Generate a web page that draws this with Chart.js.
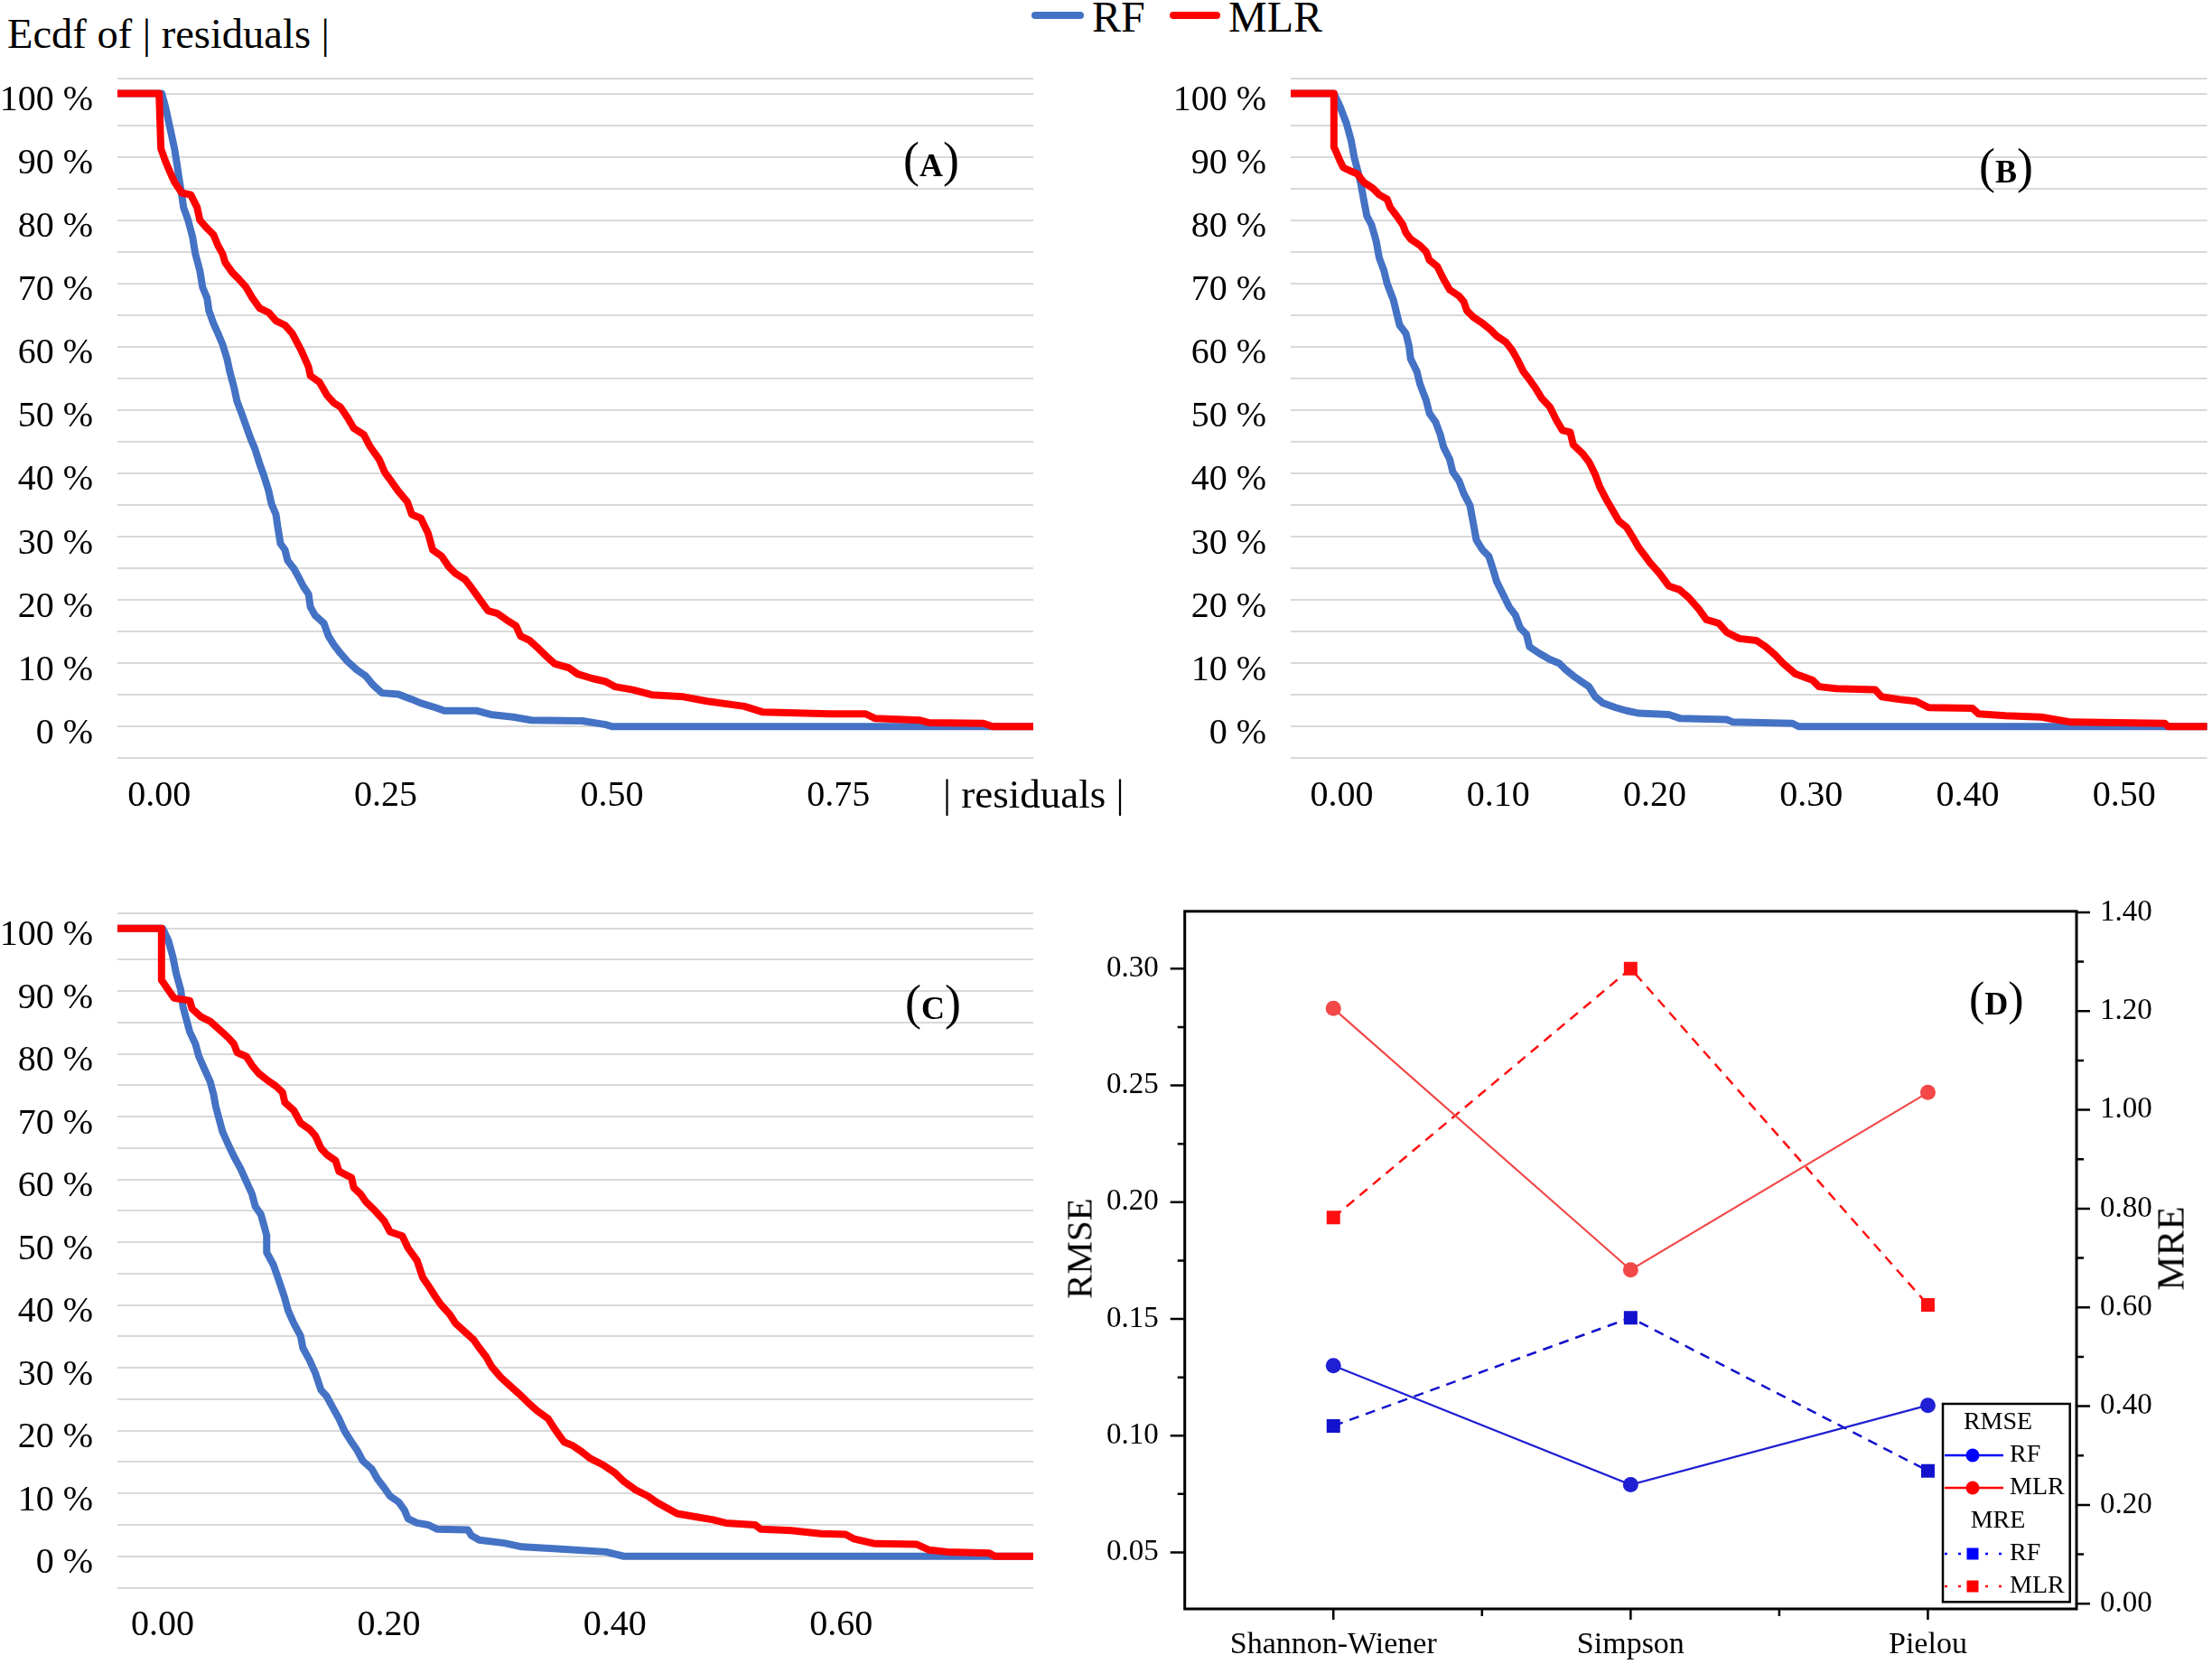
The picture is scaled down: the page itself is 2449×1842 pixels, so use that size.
<!DOCTYPE html>
<html>
<head>
<meta charset="utf-8">
<title>Ecdf of residuals</title>
<script src="https://cdn.jsdelivr.net/npm/chart.js@4.4.1/dist/chart.umd.min.js"></script>
<style>
body{margin:0;background:#fff;width:2449px;height:1842px;position:relative;overflow:hidden;font-family:"Liberation Serif","Times New Roman",serif;color:#000;}
.box{position:absolute}
.txt{position:absolute;white-space:nowrap;line-height:1}
.lbl{position:absolute;white-space:nowrap;line-height:1;font-size:54px}
.lbl b{font-size:36px}
.key{position:absolute;height:8px;border-radius:4px}
.rot{position:absolute;white-space:nowrap;line-height:1;transform:translate(-50%,-50%) rotate(-90deg)}
</style>
</head>
<body>

<div class="txt" style="left:8px;top:15px;font-size:46.5px">Ecdf of | residuals |</div>
<div class="key" style="left:1142px;top:13px;width:58px;background:#4472C4"></div>
<div class="txt" style="left:1209px;top:-5px;font-size:48px">RF</div>
<div class="key" style="left:1295px;top:13px;width:56px;background:#FF0000"></div>
<div class="txt" style="left:1360px;top:-5px;font-size:48px">MLR</div>

<div class="box" style="left:0;top:0;width:1160px;height:920px"><canvas id="chartA"></canvas></div>
<div class="box" style="left:1300px;top:0;width:1149px;height:920px"><canvas id="chartB"></canvas></div>
<div class="box" style="left:0;top:960px;width:1160px;height:882px"><canvas id="chartC"></canvas></div>
<div class="box" style="left:1150px;top:960px;width:1299px;height:882px"><canvas id="chartD"></canvas></div>

<div class="txt" style="left:1044px;top:857px;font-size:45px">| residuals |</div>
<div class="lbl" style="left:1000px;top:150px">(<b>A</b>)</div>
<div class="lbl" style="left:2191px;top:157px">(<b>B</b>)</div>
<div class="lbl" style="left:1002px;top:1083px">(<b>C</b>)</div>
<div class="lbl" style="left:2180px;top:1080px;font-size:52px">(<b>D</b>)</div>
<div class="rot" style="left:1195px;top:1382px;font-size:41px">RMSE</div>
<div class="rot" style="left:2403px;top:1382px;font-size:43px">MRE</div>

<script>
// ---- panel A: [|residual|, percent]
var aRF = [[-0.047,100],[0.003,100],[0.007,97.9],[0.012,94.6],[0.017,91.3],[0.020,88.6],[0.022,86.6],[0.025,84.0],[0.027,82.0],[0.032,80.0],[0.037,77.3],[0.040,74.7],[0.045,72.0],[0.048,69.4],[0.053,67.7],[0.055,65.7],[0.060,63.7],[0.065,62.1],[0.070,60.4],[0.075,58.1],[0.078,56.1],[0.083,53.4],[0.086,51.4],[0.091,49.5],[0.096,47.5],[0.101,45.5],[0.106,43.8],[0.111,41.5],[0.116,39.5],[0.121,37.2],[0.124,35.2],[0.129,33.5],[0.131,31.5],[0.134,28.9],[0.139,27.9],[0.142,26.2],[0.149,24.9],[0.154,23.6],[0.159,22.2],[0.165,20.9],[0.167,18.9],[0.172,17.6],[0.182,16.3],[0.187,14.3],[0.193,12.9],[0.200,11.6],[0.208,10.3],[0.218,9.0],[0.228,8.0],[0.236,6.6],[0.246,5.3],[0.264,5.1],[0.279,4.3],[0.289,3.7],[0.305,3.0],[0.315,2.5],[0.350,2.5],[0.366,1.9],[0.391,1.5],[0.411,1.0],[0.467,0.9],[0.493,0.3],[0.500,0.0],[0.965,0.0]];
var aMLR = [[-0.047,100],[0.000,100],[0.002,91.3],[0.007,89.3],[0.012,87.6],[0.017,86.0],[0.025,84.3],[0.035,84.0],[0.042,82.0],[0.045,80.0],[0.053,78.7],[0.060,77.7],[0.065,76.0],[0.070,74.7],[0.073,73.3],[0.081,71.7],[0.088,70.7],[0.096,69.4],[0.103,67.7],[0.111,66.1],[0.121,65.4],[0.129,64.1],[0.139,63.4],[0.147,62.1],[0.157,59.4],[0.165,56.8],[0.167,55.4],[0.177,54.4],[0.185,52.4],[0.193,51.1],[0.200,50.5],[0.208,48.8],[0.215,47.1],[0.226,46.1],[0.233,44.2],[0.243,42.2],[0.249,40.2],[0.256,38.8],[0.264,37.2],[0.274,35.5],[0.279,33.5],[0.289,32.9],[0.297,30.5],[0.302,27.9],[0.312,26.9],[0.320,25.2],[0.327,24.2],[0.338,23.2],[0.345,21.9],[0.355,19.9],[0.363,18.3],[0.373,17.9],[0.383,16.9],[0.394,15.9],[0.399,14.3],[0.409,13.6],[0.419,12.3],[0.429,10.9],[0.437,9.9],[0.452,9.3],[0.462,8.3],[0.478,7.6],[0.493,7.1],[0.503,6.3],[0.523,5.8],[0.544,5.0],[0.579,4.7],[0.605,4.0],[0.646,3.2],[0.666,2.3],[0.741,2.0],[0.780,2.0],[0.790,1.3],[0.840,1.0],[0.850,0.6],[0.910,0.5],[0.920,0.0],[0.965,0.0]];

// ---- panel B
var bRF = [[-0.032,100],[-0.005,100],[-0.001,97.9],[0.003,95.3],[0.006,92.6],[0.008,89.9],[0.010,88.0],[0.012,86.0],[0.014,83.3],[0.016,80.7],[0.019,79.3],[0.022,76.7],[0.024,74.0],[0.027,72.0],[0.029,70.0],[0.033,67.4],[0.035,65.4],[0.037,63.4],[0.041,62.1],[0.043,60.1],[0.044,58.1],[0.048,56.1],[0.050,54.1],[0.054,51.5],[0.056,49.5],[0.060,48.1],[0.063,46.1],[0.065,44.2],[0.069,42.2],[0.071,40.2],[0.075,38.8],[0.078,36.8],[0.082,34.9],[0.084,32.2],[0.086,29.5],[0.090,27.9],[0.094,26.9],[0.097,24.6],[0.099,22.9],[0.103,20.9],[0.107,18.9],[0.111,17.6],[0.114,15.6],[0.118,14.6],[0.120,12.6],[0.126,11.6],[0.133,10.6],[0.139,10.0],[0.143,9.0],[0.148,8.0],[0.152,7.3],[0.158,6.3],[0.162,4.7],[0.167,3.7],[0.175,3.0],[0.182,2.5],[0.190,2.1],[0.209,1.9],[0.216,1.3],[0.246,1.1],[0.250,0.7],[0.288,0.5],[0.292,0.0],[0.553,0.0]];
var bMLR = [[-0.032,100],[-0.005,100],[-0.005,91.6],[-0.001,89.3],[0.001,88.3],[0.007,87.6],[0.010,87.3],[0.014,86.0],[0.020,85.0],[0.024,84.0],[0.029,83.3],[0.031,82.0],[0.035,80.7],[0.039,79.3],[0.041,78.0],[0.044,77.0],[0.050,76.0],[0.054,75.0],[0.056,73.7],[0.061,72.7],[0.065,70.7],[0.069,69.0],[0.075,68.0],[0.078,67.1],[0.080,65.7],[0.084,64.7],[0.090,63.7],[0.095,62.7],[0.099,61.7],[0.105,60.7],[0.109,59.4],[0.112,58.1],[0.116,56.1],[0.120,54.8],[0.124,53.4],[0.128,51.8],[0.133,50.5],[0.137,48.5],[0.141,46.8],[0.146,46.5],[0.148,44.5],[0.154,43.1],[0.158,41.8],[0.162,39.8],[0.165,37.8],[0.169,35.9],[0.173,34.2],[0.177,32.5],[0.182,31.5],[0.186,29.9],[0.190,28.2],[0.194,26.9],[0.197,25.9],[0.203,24.2],[0.209,22.2],[0.216,21.6],[0.222,20.3],[0.228,18.6],[0.233,16.9],[0.241,16.3],[0.246,14.9],[0.254,13.9],[0.265,13.6],[0.271,12.6],[0.277,11.3],[0.282,10.0],[0.290,8.3],[0.301,7.3],[0.305,6.3],[0.316,6.0],[0.341,5.8],[0.345,4.7],[0.356,4.3],[0.367,4.0],[0.375,3.0],[0.403,2.9],[0.407,2.0],[0.424,1.7],[0.447,1.5],[0.466,0.7],[0.526,0.5],[0.528,0.0],[0.553,0.0]];

// ---- panel C
var cRF = [[-0.040,100],[0.000,100],[0.005,98.1],[0.009,95.5],[0.012,92.8],[0.016,90.2],[0.018,87.5],[0.021,85.5],[0.024,83.5],[0.029,81.6],[0.032,79.6],[0.037,77.6],[0.042,75.6],[0.045,73.6],[0.047,71.6],[0.050,69.6],[0.053,67.6],[0.058,65.6],[0.063,63.7],[0.069,61.7],[0.074,59.7],[0.079,57.7],[0.082,55.7],[0.087,54.4],[0.092,51.1],[0.092,48.4],[0.098,46.4],[0.103,43.8],[0.108,41.1],[0.111,39.1],[0.116,37.1],[0.122,35.1],[0.124,33.2],[0.130,31.2],[0.135,29.2],[0.140,26.5],[0.145,25.5],[0.151,23.5],[0.156,21.9],[0.161,19.9],[0.167,18.2],[0.172,16.9],[0.177,15.2],[0.185,13.9],[0.190,12.3],[0.196,10.9],[0.201,9.6],[0.209,8.6],[0.214,7.3],[0.217,6.0],[0.225,5.3],[0.235,5.0],[0.243,4.3],[0.270,4.2],[0.273,3.3],[0.280,2.6],[0.302,2.1],[0.318,1.5],[0.349,1.2],[0.392,0.7],[0.408,0.0],[0.770,0.0]];
var cMLR = [[-0.040,100],[-0.001,100],[-0.001,91.8],[0.005,90.2],[0.010,88.9],[0.024,88.5],[0.026,87.2],[0.034,85.9],[0.042,85.2],[0.050,83.9],[0.058,82.6],[0.063,81.6],[0.066,80.2],[0.074,79.6],[0.079,78.2],[0.085,76.9],[0.092,75.9],[0.100,74.9],[0.106,73.9],[0.108,72.3],[0.116,71.0],[0.122,69.0],[0.130,68.0],[0.135,67.0],[0.140,65.0],[0.145,64.0],[0.153,63.0],[0.156,61.3],[0.167,60.3],[0.169,58.7],[0.175,57.7],[0.180,56.4],[0.188,55.0],[0.196,53.4],[0.201,51.7],[0.212,51.0],[0.217,49.1],[0.225,47.1],[0.230,44.4],[0.235,43.1],[0.241,41.4],[0.246,40.1],[0.254,38.5],[0.259,37.1],[0.267,35.8],[0.275,34.5],[0.280,33.2],[0.286,31.8],[0.291,30.2],[0.299,28.5],[0.307,27.2],[0.315,25.9],[0.323,24.5],[0.331,23.2],[0.341,21.9],[0.347,20.2],[0.355,18.2],[0.363,17.6],[0.371,16.6],[0.378,15.6],[0.389,14.6],[0.400,13.3],[0.408,11.9],[0.418,10.6],[0.429,9.6],[0.437,8.6],[0.447,7.6],[0.455,6.8],[0.471,6.3],[0.487,5.8],[0.498,5.3],[0.524,5.0],[0.529,4.3],[0.556,4.1],[0.582,3.6],[0.604,3.5],[0.611,2.8],[0.630,2.0],[0.667,1.9],[0.678,1.0],[0.694,0.7],[0.731,0.5],[0.736,0.0],[0.770,0.0]];

// ---- tick labels
var ticksA = [0, 0.25, 0.5, 0.75];
var ticksB = [0, 0.1, 0.2, 0.3, 0.4, 0.5];
var ticksC = [0, 0.2, 0.4, 0.6];
var pctLabels = [0, 10, 20, 30, 40, 50, 60, 70, 80, 90, 100];

// ---- panel D
var indices = ['Shannon-Wiener', 'Simpson', 'Pielou'];
var rmseRF = [0.130, 0.079, 0.113];
var rmseMLR = [0.283, 0.171, 0.247];
var mreRF = [0.360, 0.579, 0.269];
var mreMLR = [0.782, 1.286, 0.605];
var rmseTicks = [0.05, 0.10, 0.15, 0.20, 0.25, 0.30];
var mreTicks = [0, 0.2, 0.4, 0.6, 0.8, 1.0, 1.2, 1.4];

Chart.defaults.font.family = '"Liberation Serif", "Times New Roman", serif';
Chart.defaults.color = '#000';

var COL_RF = '#4472C4', COL_MLR = '#FF0000';

function toPts(arr) {
  return arr.map(function(p) { return {x: p[0], y: p[1]}; });
}

function gridValues(top) {
  var g = [];
  for (var v = -5; v <= 100; v += 5) g.push(v);
  g.push(top);
  return g;
}

function ecdfLine(label, arr, color, order) {
  return {
    label: label, data: toPts(arr), order: order, showLine: true,
    borderColor: color, backgroundColor: color, borderWidth: 8,
    borderJoinStyle: 'round', borderCapStyle: 'round',
    pointRadius: 0, tension: 0, fill: false
  };
}

function ecdfChart(id, rf, mlr, xMin, xMax, xTicks, yTop, box) {
  var ctx = document.getElementById(id).getContext('2d');
  return new Chart(ctx, {
    type: 'scatter',
    data: {datasets: [ecdfLine('MLR', mlr, COL_MLR, 0), ecdfLine('RF', rf, COL_RF, 1)]},
    options: {
      responsive: true, maintainAspectRatio: false, animation: false,
      layout: {autoPadding: false, padding: {top: box.top, right: box.right, left: 0, bottom: 0}},
      plugins: {legend: {display: false}, tooltip: {enabled: false}},
      scales: {
        x: {
          type: 'linear', min: xMin, max: xMax,
          grid: {display: false, drawTicks: false}, border: {display: false},
          afterBuildTicks: function(s) { s.ticks = xTicks.map(function(v) { return {value: v}; }); },
          afterFit: function(s) { s.height = box.xh; },
          ticks: {autoSkip: false, maxRotation: 0, padding: 18, font: {size: 40},
            callback: function(v) { return v.toFixed(2); }}
        },
        y: {
          type: 'linear', min: -5, max: yTop,
          grid: {color: '#d9d9d9', lineWidth: 2, drawTicks: false}, border: {display: false},
          afterBuildTicks: function(s) { s.ticks = gridValues(yTop).map(function(v) { return {value: v}; }); },
          afterFit: function(s) { s.width = box.yw; },
          ticks: {autoSkip: false, padding: 27, labelOffset: 8, font: {size: 40},
            callback: function(v) { return pctLabels.indexOf(v) >= 0 ? v + ' %' : ''; }}
        }
      }
    }
  });
}

ecdfChart('chartA', aRF, aMLR, -0.046, 0.965, ticksA, 102.4, {top: 86.7, right: 16, yw: 130, xh: 80.7});
ecdfChart('chartB', bRF, bMLR, -0.0326, 0.553, ticksB, 102.4, {top: 86.7, right: 5.4, yw: 129, xh: 80.7});
ecdfChart('chartC', cRF, cMLR, -0.040, 0.770, ticksC, 102.4, {top: 43.4, right: 16, yw: 130, xh: 84.5});

// frame, tick marks and grouped legend of panel D
var legendRows = [
  {head: 'RMSE', dy: 21},
  {text: 'RF', color: '#0000ff', marker: 'circle', dy: 57},
  {text: 'MLR', color: '#ff0000', marker: 'circle', dy: 93},
  {head: 'MRE', dy: 130},
  {text: 'RF', color: '#0000ff', marker: 'rect', dy: 166},
  {text: 'MLR', color: '#ff0000', marker: 'rect', dy: 202}
];

var dFrame = {
  id: 'dFrame',
  afterDraw: function(chart) {
    var c = chart.ctx, a = chart.chartArea;
    var sx = chart.scales.x, sy = chart.scales.y, s2 = chart.scales.y2;
    var i, p;
    c.save();
    c.strokeStyle = '#000';
    c.lineWidth = 3;
    c.strokeRect(a.left, a.top, a.right - a.left, a.bottom - a.top);
    c.lineWidth = 2.5;
    c.beginPath();
    for (i = 0; i < rmseTicks.length; i++) {
      p = sy.getPixelForValue(rmseTicks[i]);
      c.moveTo(a.left, p); c.lineTo(a.left - 16, p);
      p = sy.getPixelForValue(rmseTicks[i] + 0.025);
      if (p > a.top) { c.moveTo(a.left, p); c.lineTo(a.left - 8, p); }
    }
    for (i = 0; i < mreTicks.length; i++) {
      p = s2.getPixelForValue(mreTicks[i]);
      c.moveTo(a.right, p); c.lineTo(a.right + 15, p);
      p = s2.getPixelForValue(mreTicks[i] + 0.1);
      if (p > a.top) { c.moveTo(a.right, p); c.lineTo(a.right + 8, p); }
    }
    for (i = 0; i < indices.length; i++) {
      p = sx.getPixelForValue(i);
      c.moveTo(p, a.bottom); c.lineTo(p, a.bottom + 12);
      if (i < indices.length - 1) {
        p = sx.getPixelForValue(i + 0.5);
        c.moveTo(p, a.bottom); c.lineTo(p, a.bottom + 8);
      }
    }
    c.stroke();

    var lx = a.right - 148, ly = a.bottom - 227, lw = 140.7, lh = 219.3;
    c.fillStyle = '#fff';
    c.fillRect(lx, ly, lw, lh);
    c.lineWidth = 2.5;
    c.strokeRect(lx, ly, lw, lh);
    c.font = '28px "Liberation Serif", "Times New Roman", serif';
    c.textBaseline = 'middle';
    legendRows.forEach(function(r) {
      var y = ly + r.dy;
      if (r.head) {
        c.fillStyle = '#000'; c.textAlign = 'center';
        c.fillText(r.head, lx + 61, y);
        return;
      }
      c.strokeStyle = r.color; c.fillStyle = r.color;
      c.lineWidth = 2.7;
      c.setLineDash(r.marker === 'rect' ? [3, 12] : []);
      c.beginPath(); c.moveTo(lx + 2, y); c.lineTo(lx + 67, y); c.stroke();
      c.setLineDash([]);
      if (r.marker === 'circle') {
        c.beginPath(); c.arc(lx + 33, y, 7.5, 0, Math.PI * 2); c.fill();
      } else {
        c.fillRect(lx + 26.5, y - 6.5, 13, 13);
      }
      c.fillStyle = '#000'; c.textAlign = 'left';
      c.fillText(r.text, lx + 74, y);
    });
    c.restore();
  }
};

function metric(label, data, axis, color, style, dash) {
  return {
    label: label, data: data, yAxisID: axis,
    borderColor: color, backgroundColor: color,
    borderWidth: dash ? 2.5 : 2.2, borderDash: dash || [],
    pointStyle: style, pointRadius: style === 'rect' ? 10.6 : 8.5,
    pointBorderWidth: 0, tension: 0, fill: false
  };
}

new Chart(document.getElementById('chartD').getContext('2d'), {
  type: 'line',
  data: {
    labels: indices,
    datasets: [
      metric('RMSE RF', rmseRF, 'y', '#1f1fd4', 'circle'),
      metric('RMSE MLR', rmseMLR, 'y', '#f24848', 'circle'),
      metric('MRE RF', mreRF, 'y2', '#1212cc', 'rect', [11, 8]),
      metric('MRE MLR', mreMLR, 'y2', '#ff1010', 'rect', [11, 8])
    ]
  },
  options: {
    responsive: true, maintainAspectRatio: false, animation: false,
    layout: {autoPadding: false, padding: {top: 24.3, right: 0, left: 0, bottom: 0}},
    plugins: {legend: {display: false}, tooltip: {enabled: false}},
    scales: {
      x: {
        type: 'category', offset: true,
        grid: {display: false, drawTicks: false}, border: {display: false},
        afterFit: function(s) { s.height = 61; },
        ticks: {autoSkip: false, maxRotation: 0, padding: 20, font: {size: 34}}
      },
      y: {
        type: 'linear', position: 'left', min: 0.0258, max: 0.3246,
        grid: {display: false, drawTicks: false}, border: {display: false},
        afterBuildTicks: function(s) { s.ticks = rmseTicks.map(function(v) { return {value: v}; }); },
        afterFit: function(s) { s.width = 161.7; },
        ticks: {autoSkip: false, padding: 29, font: {size: 33},
          callback: function(v) { return v.toFixed(2); }}
      },
      y2: {
        type: 'linear', position: 'right', min: -0.0106, max: 1.402,
        grid: {display: false, drawTicks: false}, border: {display: false},
        afterBuildTicks: function(s) { s.ticks = mreTicks.map(function(v) { return {value: v}; }); },
        afterFit: function(s) { s.width = 150; },
        ticks: {autoSkip: false, padding: 26, font: {size: 33},
          callback: function(v) { return v.toFixed(2); }}
      }
    }
  },
  plugins: [dFrame]
});
</script>
</body>
</html>
